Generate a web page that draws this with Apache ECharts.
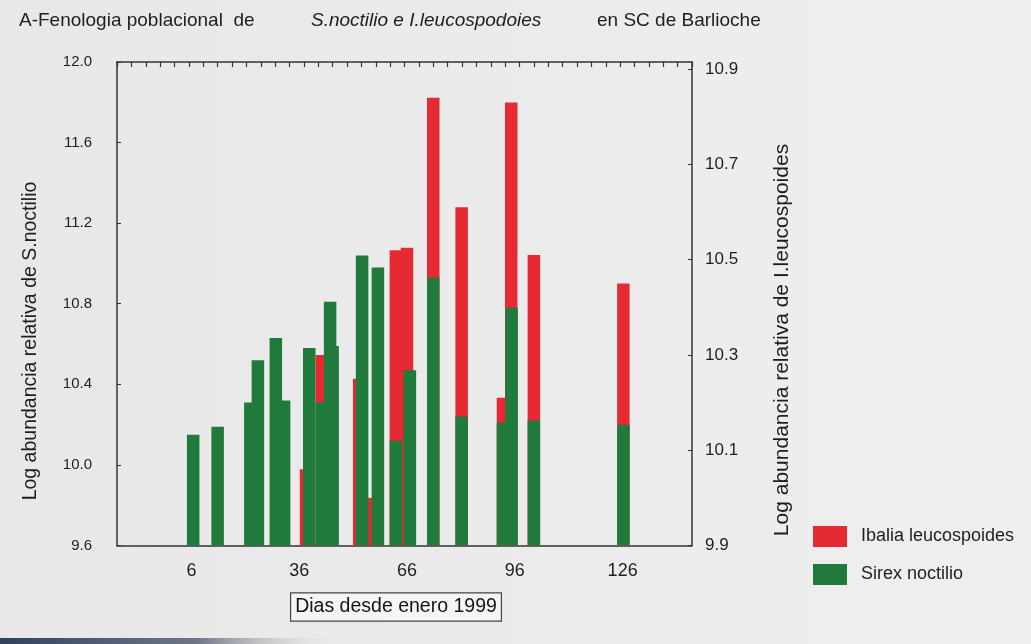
<!DOCTYPE html>
<html>
<head>
<meta charset="utf-8">
<script src="https://cdn.jsdelivr.net/npm/echarts@6/dist/echarts.min.js"></script>
<style>
  html, body { margin: 0; padding: 0; background: #ebebeb; }
  #chart { width: 1031px; height: 644px; }
</style>
</head>
<body>
<div id="chart"></div>
<script>
// ---- Data ----
// Sirex noctilio (green, left axis: Log abundancia relativa de S.noctilio)
const sirexDays = [6.5, 13.3, 22.4, 24.5, 29.5, 31.8, 38.8, 42.3, 44.6, 45.3, 53.5, 57.9, 62.9, 66.8, 73.3, 81.2, 92.7, 95.1, 101.3, 126.2];
const sirexVals = [10.15, 10.19, 10.31, 10.52, 10.63, 10.32, 10.58, 10.31, 10.81, 10.59, 11.04, 10.98, 10.12, 10.47, 10.93, 10.24, 10.21, 10.78, 10.22, 10.20];
// Ibalia leucospoides (red, right axis: Log abundancia relativa de I.leucospoides)
const ibaliaDays = [37.9, 42.3, 52.7, 55.7, 62.9, 66.0, 73.3, 81.2, 92.7, 95.0, 101.3, 126.2];
const ibaliaVals = [10.06, 10.30, 10.25, 10.00, 10.52, 10.525, 10.84, 10.61, 10.21, 10.83, 10.51, 10.45];
// Tick labels
const xTicks = [6, 36, 66, 96, 126];
const leftTicks = [9.6, 10.0, 10.4, 10.8, 11.2, 11.6, 12.0];
const rightTicks = [9.9, 10.1, 10.3, 10.5, 10.7, 10.9];
// Texts
const titleParts = ['A-Fenologia poblacional  de', 'S.noctilio e I.leucospodoies', 'en SC de Barlioche'];
const xName = 'Dias desde enero 1999';
const leftName = 'Log abundancia relativa de S.noctilio';
const rightName = 'Log abundancia relativa de I.leucospoides';
const seriesNames = ['Ibalia leucospoides', 'Sirex noctilio'];

const FONT = 'Liberation Sans, Arial, sans-serif';
const RED = '#e62a33';
const GREEN = '#1f7a3b';
const AXIS = '#333333';
const TXT = '#1e1e1e';

const chart = echarts.init(document.getElementById('chart'));

const option = {
  backgroundColor: new echarts.graphic.LinearGradient(0, 0, 1, 0, [
    { offset: 0, color: '#e8e8e8' },
    { offset: 1, color: '#efefef' }
  ]),
  animation: false,
  textStyle: { fontFamily: FONT },
  grid: { left: 117, right: 339, top: 62, bottom: 98.5, containLabel: false },
  legend: {
    orient: 'vertical',
    left: 808,
    top: 521,
    itemWidth: 34,
    itemHeight: 21,
    itemGap: 17,
    icon: 'rect',
    data: seriesNames,
    textStyle: { fontSize: 18, color: TXT, fontFamily: FONT, padding: [0, 0, 0, 9] }
  },
  xAxis: [
    {
      type: 'value',
      position: 'bottom',
      min: -14.7,
      max: 145.3,
      axisLine: { show: true, onZero: false, lineStyle: { color: AXIS, width: 1.5 } },
      axisTick: { show: false, customValues: xTicks },
      axisLabel: {
        customValues: xTicks,
        fontSize: 18, color: TXT, margin: 17, fontFamily: FONT,
        formatter: v => String(v)
      },
      splitLine: { show: false }
    },
    {
      type: 'value',
      position: 'top',
      min: 0,
      max: 40,
      interval: 1,
      axisLine: { show: true, onZero: false, lineStyle: { color: AXIS, width: 1.5 } },
      axisTick: { show: true, inside: true, length: 5, lineStyle: { color: AXIS, width: 1.2 } },
      axisLabel: { show: false },
      splitLine: { show: false }
    }
  ],
  yAxis: [
    {
      type: 'value',
      position: 'left',
      min: 9.6,
      max: 12.0,
      axisLine: { show: true, onZero: false, lineStyle: { color: AXIS, width: 1.5 } },
      axisTick: { show: true, inside: true, length: 4, customValues: leftTicks, lineStyle: { color: AXIS } },
      axisLabel: {
        customValues: leftTicks,
        fontSize: 15, color: TXT, margin: 25, fontFamily: FONT,
        formatter: v => Number(v).toFixed(1)
      },
      splitLine: { show: false }
    },
    {
      type: 'value',
      position: 'right',
      min: 9.9,
      max: 10.915,
      axisLine: { show: true, onZero: false, lineStyle: { color: AXIS, width: 1.5 } },
      axisTick: { show: true, inside: true, length: 4, customValues: rightTicks, lineStyle: { color: AXIS } },
      axisLabel: {
        customValues: rightTicks,
        fontSize: 17, color: TXT, margin: 13, fontFamily: FONT,
        formatter: v => Number(v).toFixed(1)
      },
      splitLine: { show: false }
    }
  ],
  series: [
    {
      name: seriesNames[0],
      type: 'bar',
      xAxisIndex: 0,
      yAxisIndex: 1,
      barWidth: 12.5,
      barGap: '-100%',
      z: 2,
      clip: true,
      itemStyle: { color: RED },
      data: ibaliaDays.map((d, i) => [d, ibaliaVals[i]])
    },
    {
      name: seriesNames[1],
      type: 'bar',
      xAxisIndex: 0,
      yAxisIndex: 0,
      barWidth: 12.5,
      barGap: '-100%',
      z: 3,
      clip: true,
      itemStyle: { color: GREEN },
      data: sirexDays.map((d, i) => [d, sirexVals[i]])
    }
  ],
  graphic: [
    {
      type: 'text', x: 19, y: 21,
      style: { text: titleParts[0], fontSize: 19, fontFamily: FONT, fill: TXT, align: 'left', verticalAlign: 'middle' }
    },
    {
      type: 'text', x: 311, y: 21,
      style: { text: titleParts[1], fontSize: 19, fontStyle: 'italic', fontFamily: FONT, fill: TXT, align: 'left', verticalAlign: 'middle' }
    },
    {
      type: 'text', x: 597, y: 21,
      style: { text: titleParts[2], fontSize: 19, fontFamily: FONT, fill: TXT, align: 'left', verticalAlign: 'middle' }
    },
    {
      type: 'text', x: 31, y: 341, rotation: Math.PI / 2,
      style: { text: leftName, fontSize: 19.5, fontFamily: FONT, fill: TXT, align: 'center', verticalAlign: 'middle' }
    },
    {
      type: 'text', x: 782, y: 340, rotation: Math.PI / 2,
      style: { text: rightName, fontSize: 21, fontFamily: FONT, fill: TXT, align: 'center', verticalAlign: 'middle' }
    },
    {
      type: 'text', x: 396, y: 607,
      style: {
        text: xName, fontSize: 19.5, fontFamily: FONT, fill: '#151515', align: 'center', verticalAlign: 'middle',
        backgroundColor: '#f5f5f5', borderColor: '#444', borderWidth: 1.2, padding: [4, 4, 3, 4]
      }
    },
    {
      type: 'rect', shape: { x: 0, y: 638, width: 330, height: 6 },
      style: {
        fill: new echarts.graphic.LinearGradient(0, 0, 1, 0, [
          { offset: 0, color: 'rgba(40,55,85,0.95)' },
          { offset: 0.6, color: 'rgba(60,70,95,0.7)' },
          { offset: 1, color: 'rgba(200,195,180,0)' }
        ])
      }
    }
  ]
};

chart.setOption(option);
</script>
</body>
</html>
